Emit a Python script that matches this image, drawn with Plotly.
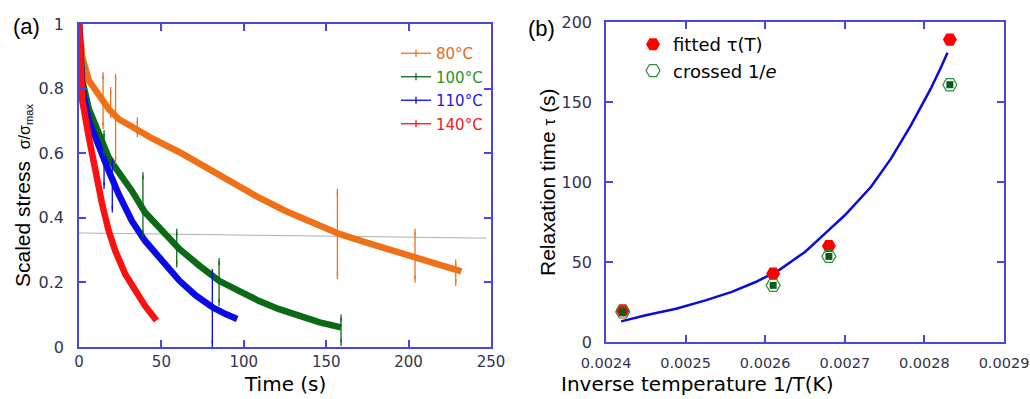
import plotly.graph_objects as go

# ---------------- Panel (a) data ----------------
t80 = [0, 0.5, 1, 2, 6, 12, 18, 24, 34, 45, 61, 77, 93, 109, 125, 142, 158, 174, 190, 206, 222, 232]
v80 = [1.0, 0.95, 0.93, 0.897, 0.825, 0.778, 0.737, 0.706, 0.675, 0.644, 0.603, 0.556, 0.51, 0.463,
       0.422, 0.386, 0.35, 0.324, 0.298, 0.272, 0.247, 0.234]
t100 = [0, 1, 2, 6, 12, 18, 24, 32, 40, 51, 61, 73, 85, 97, 109, 121, 134, 146, 159]
v100 = [1.0, 0.88, 0.825, 0.737, 0.659, 0.587, 0.541, 0.484, 0.417, 0.36, 0.303, 0.252, 0.205,
        0.174, 0.143, 0.118, 0.097, 0.076, 0.061]
t110 = [0, 1, 2, 6, 12, 18, 24, 32, 40, 51, 61, 71, 81, 89, 96]
v110 = [1.0, 0.87, 0.794, 0.70, 0.618, 0.546, 0.474, 0.391, 0.329, 0.262, 0.205, 0.159, 0.123, 0.102, 0.087]
t140 = [0, 1, 2, 6, 10, 14, 18, 22, 28, 34, 40, 47]
v140 = [1.0, 0.85, 0.763, 0.649, 0.536, 0.443, 0.36, 0.298, 0.226, 0.174, 0.128, 0.082]

# spikes: time, low, high
spk80_t = [14.6, 19.2, 22.2, 35.4, 156.8, 203.9, 228.6]
spk80_lo = [0.685, 0.72, 0.577, 0.66, 0.221, 0.21, 0.2]
spk80_hi = [0.84, 0.794, 0.835, 0.70, 0.479, 0.355, 0.26]
spk100_t = [15.2, 38.8, 59.3, 85.0, 159.0]
spk100_lo = [0.60, 0.35, 0.257, 0.138, 0.014]
spk100_hi = [0.66, 0.53, 0.355, 0.265, 0.09]
spk110_t = [15.2, 20.2, 80.9]
spk110_lo = [0.50, 0.427, 0.01]
spk110_hi = [0.58, 0.57, 0.231]
spk140_t = [16.0]
spk140_lo = [0.39]
spk140_hi = [0.43]

ref_t = [0, 247]
ref_v = [0.353, 0.337]

labels_a = ["80°C", "100°C", "110°C", "140°C"]
colors_a = ["#f07018", "#0b6a16", "#0a0ae6", "#ff1010"]
text_colors_a = ["#e8691e", "#2a922a", "#1a1ae8", "#f02020"]

# ---------------- Panel (b) data ----------------
invT = [0.002421, 0.00261, 0.002680, 0.002832]
tau_fit = [19.8, 42.7, 60.0, 189.0]
tau_cross = [18.8, 35.4, 53.5, 160.8]
curve_x = [0.002419, 0.00245, 0.002488, 0.002525, 0.002558, 0.002588, 0.002617, 0.00265,
           0.002675, 0.0027, 0.002733, 0.002758, 0.002783, 0.002808, 0.002821, 0.002829]
curve_y = [12.9, 16.7, 20.8, 26.0, 31.3, 37.5, 44.8, 56.3, 67.7, 79.2, 97.0, 114.6, 135.4,
           158.3, 171.9, 180.8]

AX = "#4646e6"
TICKC = "#33334d"
FONT = "DejaVu Sans"

fig = go.Figure()

bands = [(t80, v80), (t100, v100), (t110, v110), (t140, v140)]
spikes = [(spk80_t, spk80_lo, spk80_hi), (spk100_t, spk100_lo, spk100_hi),
          (spk110_t, spk110_lo, spk110_hi), (spk140_t, spk140_lo, spk140_hi)]

# reference line
fig.add_trace(go.Scatter(x=ref_t, y=ref_v, mode="lines", line=dict(color="#b0b0b0", width=1),
                         showlegend=False, hoverinfo="skip", xaxis="x", yaxis="y"))

for (tt, vv), col in zip(bands, colors_a):
    fig.add_trace(go.Scatter(x=tt, y=vv, mode="lines", line=dict(color=col, width=6.5),
                             showlegend=False, xaxis="x", yaxis="y"))

for (st, lo, hi), col, lab, tc in zip(spikes, colors_a, labels_a, text_colors_a):
    xs, ys = [], []
    for a, b, c in zip(st, lo, hi):
        xs += [a, a, None]
        ys += [b, c, None]
    fig.add_trace(go.Scatter(x=xs, y=ys, mode="lines+markers",
                             line=dict(color=col, width=1.3),
                             marker=dict(symbol="line-ns", size=5, line=dict(color=col, width=1.3)),
                             name=f"<span style='color:{tc}'>{lab}</span>",
                             legend="legend", legendgroup=lab, xaxis="x", yaxis="y"))

# panel b
fig.add_trace(go.Scatter(x=curve_x, y=curve_y, mode="lines", line=dict(color="#0a0adc", width=2.5),
                         showlegend=False, xaxis="x2", yaxis="y2"))
fig.add_trace(go.Scatter(x=invT, y=tau_fit, mode="markers", name="fitted τ(T)",
                         marker=dict(symbol="hexagon2", size=14, color="#ff0000",
                                     line=dict(width=0)),
                         legend="legend2", xaxis="x2", yaxis="y2"))
fig.add_trace(go.Scatter(x=invT, y=tau_cross, mode="markers", name="crossed 1/<i>e</i>",
                         marker=dict(symbol="hexagon2-open", size=14, color="#2e8b3e",
                                     line=dict(width=1.2)),
                         legend="legend2", xaxis="x2", yaxis="y2"))
fig.add_trace(go.Scatter(x=invT, y=tau_cross, mode="markers", showlegend=False,
                         marker=dict(symbol="square", size=7, color="#0b5e14"),
                         xaxis="x2", yaxis="y2"))

axis_common = dict(showline=True, linecolor=AX, linewidth=1.5, mirror="ticks", ticks="inside",
                   ticklen=7, tickcolor=AX, tickwidth=1.5, showgrid=False, zeroline=False,
                   automargin=False)

fig.update_layout(
    template="none",
    width=1030, height=399,
    margin=dict(l=0, r=0, t=0, b=0, autoexpand=False),
    paper_bgcolor="white", plot_bgcolor="white",
    font=dict(family=FONT, color="black"),
    xaxis=dict(domain=[79 / 1030, 491 / 1030], range=[0, 250], dtick=50, anchor="y",
               ticklabelstandoff=0,
               tickfont=dict(size=15, color=TICKC), **axis_common),
    yaxis=dict(domain=[52 / 399, 375 / 399], range=[0, 1], dtick=0.2, anchor="x",
               ticklabelstandoff=10,
               tickfont=dict(size=16, color=TICKC), **axis_common),
    xaxis2=dict(domain=[606 / 1030, 1004 / 1030], range=[0.0024, 0.0029], dtick=0.0001,
                tickformat=".4f", anchor="y2", ticklabelstandoff=7,
                tickfont=dict(size=14.5, color=TICKC), **axis_common),
    yaxis2=dict(domain=[57 / 399, 377 / 399], range=[0, 200], dtick=50, anchor="x2",
                ticklabelstandoff=9,
                tickfont=dict(size=16, color=TICKC), **axis_common),
    legend=dict(x=396 / 1030, y=1 - 37 / 399, xanchor="left", yanchor="top",
                bgcolor="rgba(0,0,0,0)", font=dict(size=15, family=FONT),
                traceorder="grouped", tracegroupgap=1),
    legend2=dict(x=633 / 1030, y=1 - 26 / 399, xanchor="left", yanchor="top",
                 bgcolor="rgba(0,0,0,0)", font=dict(size=18, family=FONT, color="black"),
                 traceorder="normal"),
    annotations=[
        dict(text="(a)", x=11 / 1030, y=1 - 26 / 399, xref="paper", yref="paper",
             xanchor="left", yanchor="middle", showarrow=False,
             font=dict(size=22, family="Liberation Sans")),
        dict(text="(b)", x=526 / 1030, y=1 - 28 / 399, xref="paper", yref="paper",
             xanchor="left", yanchor="middle", showarrow=False,
             font=dict(size=22, family="Liberation Sans")),
        dict(text="Time (s)", x=285 / 1030, y=1 - 384 / 399, xref="paper", yref="paper",
             xanchor="center", yanchor="middle", showarrow=False,
             font=dict(size=20, family=FONT)),
        dict(text="Scaled stress  <span style='font-size:16px'>σ/σ<sub>max</sub></span>",
             x=23 / 1030, y=1 - 196 / 399, xref="paper", yref="paper", textangle=-90,
             xanchor="center", yanchor="middle", showarrow=False,
             font=dict(size=21, family="Liberation Sans")),
        dict(text="Inverse temperature 1/T(K)", x=697 / 1030, y=1 - 384 / 399,
             xref="paper", yref="paper", xanchor="center", yanchor="middle", showarrow=False,
             font=dict(size=20, family=FONT)),
        dict(text="Relaxation time <span style='font-size:17px'>τ</span> (s)",
             x=547 / 1030, y=1 - 182 / 399, xref="paper", yref="paper", textangle=-90,
             xanchor="center", yanchor="middle", showarrow=False,
             font=dict(size=21, family="Liberation Sans")),
    ],
)

fig.write_html("out.html")
